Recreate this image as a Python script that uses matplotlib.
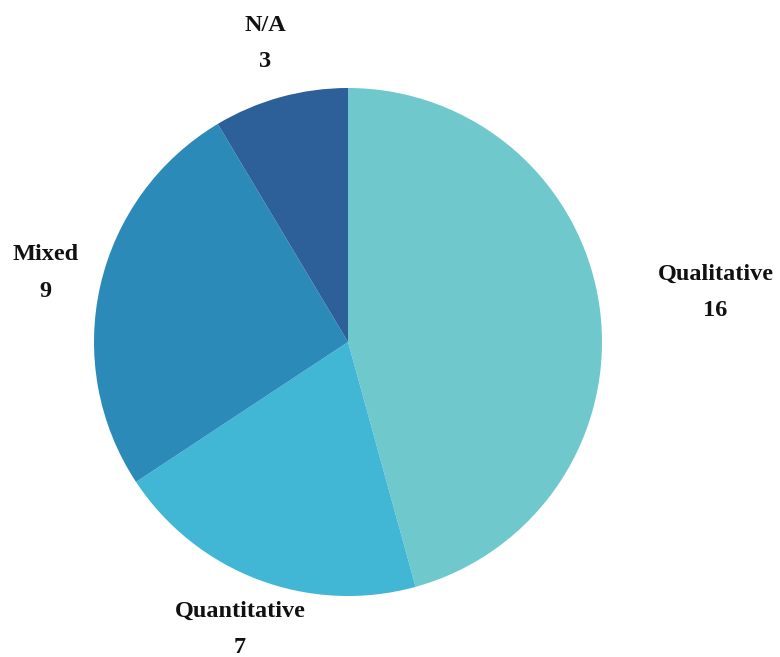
import matplotlib.pyplot as plt
import numpy as np

labels = ['Qualitative', 'Quantitative', 'Mixed', 'N/A']
counts = [16, 7, 9, 3]
colors = ['#6FC8CC', '#41B6D5', '#2C8AB8', '#2D6099']
label_dist = [1.46, 1.21, 1.22, 1.22]

W, H = 780, 657
cx, cy, r = 348, 342, 254  # pie centre / radius in pixels

fig = plt.figure(figsize=(W / 100, H / 100), dpi=100)
ax = fig.add_axes([0, 0, 1, 1])

wedges, _ = ax.pie(counts, colors=colors, startangle=90, counterclock=False,
                   radius=1, wedgeprops=dict(linewidth=0))

# labels at each wedge's middle angle
for w, lab, n, d in zip(wedges, labels, counts, label_dist):
    ang = np.deg2rad((w.theta1 + w.theta2) / 2)
    ax.text(d * np.cos(ang), d * np.sin(ang), f'{lab}\n{n}',
            ha='center', va='center', fontsize=17.5, fontweight='bold',
            family='Liberation Serif', linespacing=1.95, color='#111111')

ax.set_xlim(-cx / r, (W - cx) / r)
ax.set_ylim(-(H - cy) / r, cy / r)
ax.set_aspect('auto')
ax.axis('off')

fig.savefig('out.png', dpi=100, facecolor='white')
